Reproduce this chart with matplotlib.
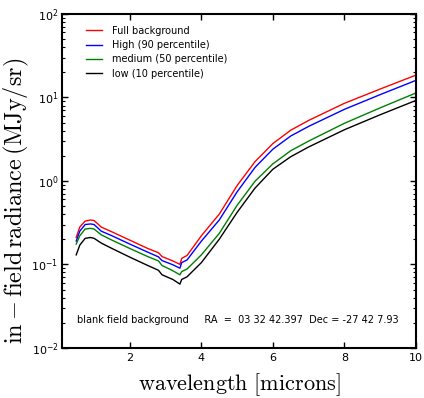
import numpy as np
import matplotlib
matplotlib.use("Agg")
import matplotlib.pyplot as plt

plt.rcParams['mathtext.fontset'] = 'cm'

wave = [0.5, 0.6, 0.75, 0.9, 1.0, 1.2, 1.5, 2.0, 2.5, 2.8, 2.9, 3.2, 3.4, 3.45, 3.6,
        4.0, 4.5, 5.0, 5.5, 6.0, 6.5, 7.0, 8.0, 9.0, 10.0]
full = [0.21, 0.28, 0.33, 0.34, 0.335, 0.28, 0.245, 0.195, 0.155, 0.138, 0.124, 0.11, 0.10, 0.118, 0.128,
        0.22, 0.40, 0.88, 1.7, 2.8, 4.05, 5.3, 8.5, 12.6, 18.5]
high = [0.19, 0.25, 0.30, 0.305, 0.30, 0.25, 0.22, 0.175, 0.14, 0.123, 0.111, 0.099, 0.09, 0.105, 0.113,
        0.19, 0.34, 0.74, 1.45, 2.4, 3.45, 4.5, 7.2, 10.8, 16.0]
medium = [0.175, 0.22, 0.265, 0.27, 0.265, 0.226, 0.195, 0.155, 0.124, 0.11, 0.097, 0.084, 0.075, 0.082, 0.088,
          0.13, 0.235, 0.51, 0.99, 1.6, 2.3, 3.0, 4.9, 7.5, 11.3]
low = [0.13, 0.17, 0.205, 0.21, 0.205, 0.18, 0.155, 0.122, 0.097, 0.085, 0.075, 0.066, 0.058, 0.066, 0.071,
       0.105, 0.2, 0.42, 0.82, 1.38, 1.95, 2.55, 4.1, 6.2, 9.2]

fig = plt.figure(figsize=(4.24, 3.98), dpi=100)
ax = fig.add_axes([0.146, 0.126, 0.835, 0.839])

ax.plot(wave, full, color='red', lw=1.0, label='Full background')
ax.plot(wave, high, color='blue', lw=1.0, label='High (90 percentile)')
ax.plot(wave, medium, color='green', lw=1.0, label='medium (50 percentile)')
ax.plot(wave, low, color='black', lw=1.0, label='low (10 percentile)')

ax.set_yscale('log')
ax.set_xlim(0.1, 10)
ax.set_ylim(1e-2, 1e2)
ax.set_xticks([2, 4, 6, 8, 10])

ax.tick_params(which='both', direction='in', top=True, right=True, labelsize=8)
ax.tick_params(which='major', length=4, width=1)
ax.tick_params(which='minor', length=2, width=0.8)
ax.tick_params(axis='y', pad=2.5)
for s in ax.spines.values():
    s.set_linewidth(1.5)

ax.text(0.52, 0.02, 'blank field background     RA  =  03 32 42.397  Dec = -27 42 7.93', fontsize=7)

ax.legend(loc='upper left', bbox_to_anchor=(0.042, 0.994), frameon=False, fontsize=7,
          handlelength=1.6, handletextpad=1.0, borderaxespad=0.6, labelspacing=0.45)

ax.set_xlabel(r'$\rm{wavelength\ [microns]}$', fontsize=16, labelpad=6)
ax.set_ylabel(r'$\rm{in-field\,radiance\,(MJy/sr)}$', fontsize=17.5)
ax.yaxis.set_label_coords(-0.088, 0.44)

fig.savefig('out.png', dpi=100)
